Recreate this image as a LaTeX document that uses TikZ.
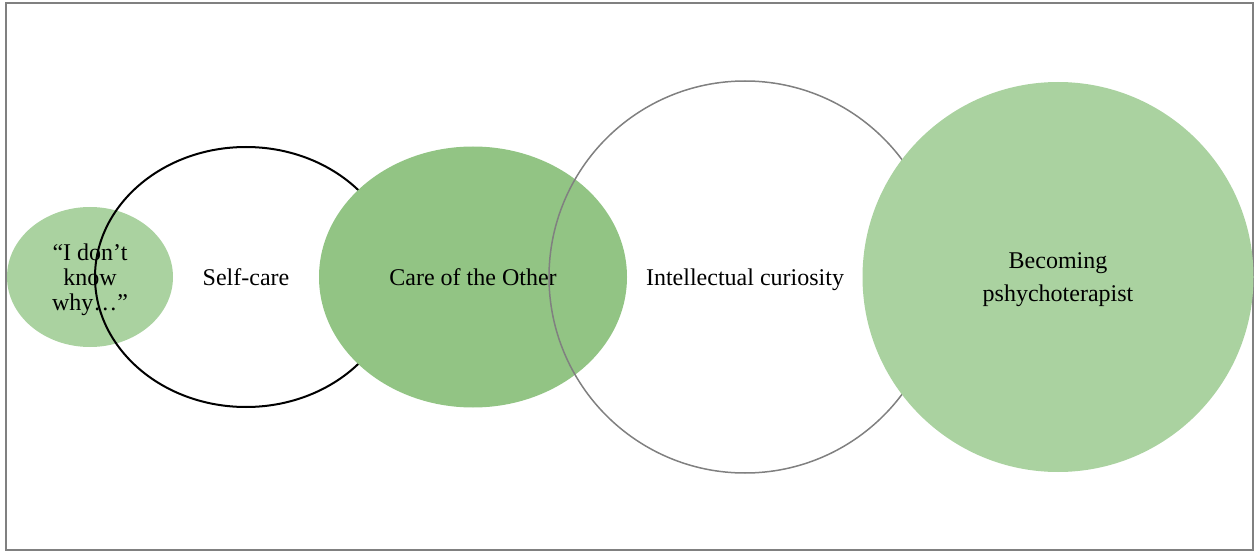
\documentclass[tikz,border=0pt]{standalone}
\usepackage{fontspec}
\setmainfont{Liberation Serif}
\usetikzlibrary{shapes.geometric}
\definecolor{lightleaf}{RGB}{170,210,160}
\definecolor{darkleaf}{RGB}{146,196,132}
\definecolor{framegray}{RGB}{128,128,128}

\begin{document}
\begin{tikzpicture}[x=0.5pt,y=-0.5pt,
    every node/.style={ellipse,inner sep=0pt,align=center,text depth=0pt,font=\fontsize{12}{12.5}\selectfont},
    leaf/.style={fill=lightleaf},
    darkleafbox/.style={fill=darkleaf},
    ring/.style={draw=black,line width=1pt},
    grayring/.style={draw=framegray,line width=0.75pt}]
            \useasboundingbox (0,0) rectangle (1254,551);
            \draw [framegray,line width=1pt] (6,3) rectangle (1253,550);

            \node [leaf,minimum width=83pt,minimum height=70pt] (dontknow) at (90,277) {“I don’t\\know\\why…”};
            \node [ring,minimum width=151pt,minimum height=130pt] (selfcare) at (246,277) {Self-care};
            \node [darkleafbox,minimum width=154pt,minimum height=130.5pt] (other) at (473,277) {Care of the Other};
            \node [grayring,minimum width=196pt,minimum height=196pt] (curiosity) at (745,277) {Intellectual curiosity};
            \node [leaf,minimum width=195.5pt,minimum height=195pt,font=\fontsize{12}{16.5}\selectfont] (becoming) at (1058,277) {Becoming\\pshychoterapist};
        \end{tikzpicture}
\end{document}
